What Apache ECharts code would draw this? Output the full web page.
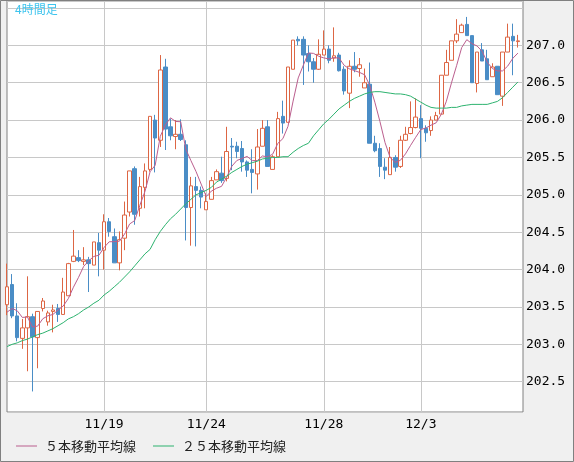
<!DOCTYPE html>
<html><head><meta charset="utf-8">
<script src="https://cdn.jsdelivr.net/npm/echarts@6/dist/echarts.min.js"></script>
<style>html,body{margin:0;padding:0;background:#f0f0f0;}#c{width:574px;height:462px;}</style>
</head><body><div id="c"></div>
<script>
// 4-hour candles: open / close / low / high
const opens = [203.53,203.80,203.38,203.08,203.22,203.37,203.09,203.48,203.30,203.44,
203.48,203.40,203.65,204.11,204.16,204.11,204.13,204.06,204.36,204.26,
204.64,204.44,204.09,204.42,204.77,205.35,204.82,205.10,205.34,206.00,
205.73,206.71,205.91,205.78,205.81,205.67,204.83,205.11,205.06,204.80,
204.94,205.20,205.29,205.22,205.65,205.65,205.62,205.44,205.34,205.28,
205.65,205.91,205.34,205.51,206.05,205.97,206.68,207.08,207.08,206.89,
206.78,206.68,206.87,206.95,206.83,206.87,206.68,206.36,206.72,206.69,
206.43,206.48,205.69,205.62,205.37,205.27,205.50,205.38,205.73,205.82,
205.90,206.02,205.89,205.86,206.00,206.08,206.60,206.80,207.06,207.17,
207.28,207.13,206.49,206.94,206.82,206.58,206.72,206.32,206.91,207.12,
207.05];
const closes = [203.77,203.38,203.09,203.22,203.37,203.10,203.44,203.58,203.42,203.46,
203.40,203.70,204.08,204.18,204.12,204.13,204.08,204.37,204.26,204.64,
204.51,204.09,204.40,204.73,205.32,204.74,205.11,205.32,206.05,205.76,
206.67,205.88,205.79,205.81,205.74,204.83,205.12,205.06,204.97,204.91,
205.19,205.31,205.19,205.58,205.64,205.58,205.44,205.33,205.30,205.64,
205.89,205.38,205.51,206.02,205.96,206.71,207.07,207.06,206.87,206.78,
206.68,206.88,206.95,206.80,206.86,206.66,206.39,206.72,206.68,206.74,
206.50,205.69,205.59,205.38,205.33,205.50,205.37,205.73,205.81,205.90,
206.04,205.89,205.83,206.00,206.06,206.60,206.77,207.06,207.15,207.27,
207.13,206.50,206.91,206.79,206.54,206.71,206.34,206.91,207.11,207.06,
207.06];
const lows = [203.39,203.35,203.04,202.94,202.64,202.37,202.68,203.44,203.25,203.16,
203.30,203.40,203.65,204.10,204.10,204.06,203.70,204.06,203.91,204.00,
204.44,204.09,203.99,204.26,204.71,204.60,204.71,204.82,205.31,205.30,
205.64,205.60,205.73,205.61,205.72,204.39,204.32,204.31,204.82,204.80,
204.94,205.20,205.16,205.18,205.33,205.49,205.31,205.24,205.02,205.07,
205.65,205.38,205.34,205.51,205.82,205.97,206.68,207.00,206.47,206.65,
206.50,206.67,206.87,206.76,206.78,206.65,206.34,206.16,206.64,206.58,
206.43,205.69,205.57,205.24,205.21,205.27,205.31,205.36,205.72,205.81,
205.89,205.49,205.71,205.79,206.00,206.08,206.60,206.80,207.03,207.17,
207.13,206.50,206.37,206.79,206.54,206.58,206.34,206.19,206.91,206.60,
206.97];
const highs = [204.08,203.94,203.55,203.34,203.91,203.41,203.44,203.62,203.45,203.53,
203.54,203.89,204.09,204.53,204.26,204.30,204.17,204.37,204.49,204.74,
204.69,204.55,204.51,204.91,205.32,205.38,205.24,205.42,206.05,206.07,
206.87,206.82,206.02,206.00,206.01,205.73,205.24,205.24,205.11,205.02,
205.24,205.34,205.51,205.91,205.76,205.71,205.72,205.46,205.61,205.88,
206.00,206.00,205.53,206.11,206.26,206.71,207.07,207.12,207.12,207.00,
206.83,207.08,207.20,207.00,207.24,206.90,206.72,206.80,206.91,206.83,
206.69,206.77,205.79,205.69,205.49,205.64,205.53,205.79,205.91,206.25,
206.29,206.20,205.93,206.05,206.11,206.60,206.94,207.06,207.35,207.29,
207.38,207.13,206.91,207.03,206.94,206.76,206.72,206.91,207.29,207.29,
207.14];
// 25-bar moving average
const ma25 = [202.97,203.00,203.02,203.05,203.07,203.10,203.13,203.15,203.18,203.21,
203.25,203.29,203.34,203.37,203.41,203.46,203.50,203.55,203.59,203.66,
203.71,203.77,203.83,203.90,203.97,204.05,204.13,204.21,204.27,204.40,
204.51,204.60,204.68,204.74,204.81,204.88,204.94,205.00,205.03,205.06,
205.10,205.17,205.21,205.25,205.30,205.34,205.38,205.41,205.43,205.45,
205.48,205.49,205.50,205.50,205.51,205.51,205.57,205.62,205.66,205.69,
205.79,205.87,205.95,206.01,206.08,206.15,206.20,206.25,206.29,206.32,
206.35,206.37,206.38,206.38,206.37,206.36,206.35,206.35,206.34,206.32,
206.28,206.24,206.20,206.17,206.16,206.16,206.16,206.17,206.17,206.19,
206.20,206.21,206.21,206.21,206.21,206.23,206.25,206.30,206.37,206.44,
206.51];
// first 4 values of the 5-bar average (need earlier bars)
const ma5Lead = [203.43,203.48,203.45,203.36];
const xTickIdx = [19,39,62,81];
const xTickLabels = ['11/19','11/24','11/28','12/3'];
const yTickLabels = ['202.5','203.0','203.5','204.0','204.5','205.0','205.5','206.0','206.5','207.0'];
const legendNames = ['５本移動平均線','２５本移動平均線'];

const n = opens.length;
const categories = [];
for (let i = 0; i <= n; i++) categories.push(String(i));
const candles = opens.map((o, i) => [o, closes[i], lows[i], highs[i]]);
const ma5 = closes.map((c, i) => {
  if (i < 4) return ma5Lead[i];
  let s = 0; for (let k = i - 4; k <= i; k++) s += closes[k];
  return +(s / 5).toFixed(3);
});

const chart = echarts.init(document.getElementById('c'));
chart.setOption({
  animation: false,
  backgroundColor: '#f0f0f0',
  title: {text: '4時間足', left: 15, top: 3, padding: 0,
    textStyle: {color: '#3ec4ee', fontSize: 12, fontWeight: 'normal', fontFamily: 'Noto Sans CJK JP'}},
  grid: {left: 7, right: 51, top: 1, bottom: 50, show: true, backgroundColor: '#ffffff',
    borderColor: '#808080', borderWidth: 1},
  legend: {left: 16, top: 438, padding: 0, itemWidth: 21, itemHeight: 1, itemGap: 17,
    icon: 'rect', selectedMode: false,
    textStyle: {fontSize: 13, color: '#222', fontFamily: 'Noto Sans CJK JP', padding: [0,0,0,3], lineHeight: 16},
    data: legendNames},
  xAxis: {type: 'category', data: categories, boundaryGap: false,
    axisLine: {show: false}, axisTick: {show: false},
    axisLabel: {interval: 0, margin: 6, color: '#000', fontSize: 13, fontFamily: 'DejaVu Sans Mono',
      formatter: (v, idx) => { const k = xTickIdx.indexOf(idx); return k >= 0 ? xTickLabels[k] : ''; }},
    splitLine: {show: true, interval: (idx) => xTickIdx.indexOf(idx) >= 0,
      lineStyle: {color: '#c8c8c8', width: 1}}},
  yAxis: {type: 'value', position: 'right', min: 202.095, max: 207.593, scale: true,
    splitNumber: 11, minInterval: 0.5, maxInterval: 0.5,
    axisLine: {show: false}, axisTick: {show: false},
    axisLabel: {margin: 3, color: '#000', fontSize: 13, fontFamily: 'DejaVu Sans Mono',
      showMinLabel: false, showMaxLabel: false,
      formatter: (v) => { const s = v.toFixed(1); return (Math.abs(v * 2 - Math.round(v * 2)) < 1e-6 && yTickLabels.indexOf(s) >= 0) ? s : ''; }},
    splitLine: {show: true, lineStyle: {color: '#c8c8c8', width: 1}}},
  graphic: [{type: 'rect', silent: true, z: 100,
    shape: {x: 0.5, y: 0.5, width: 573, height: 461},
    style: {fill: 'none', stroke: '#808080', lineWidth: 1}}],
  series: [
    {type: 'candlestick', name: '4時間足', data: candles, barWidth: 4,
      itemStyle: {color: '#ffffff', color0: '#4a8dc6', borderColor: '#dd6644', borderColor0: '#4a8dc6', borderWidth: 1}},
    {type: 'line', name: legendNames[0], data: ma5, symbol: 'none', z: 3,
      lineStyle: {color: '#bb5e8e', width: 1}, itemStyle: {color: '#bb5e8e'}},
    {type: 'line', name: legendNames[1], data: ma25, symbol: 'none', z: 3,
      lineStyle: {color: '#2db36f', width: 1}, itemStyle: {color: '#2db36f'}}
  ]
});
</script></body></html>
